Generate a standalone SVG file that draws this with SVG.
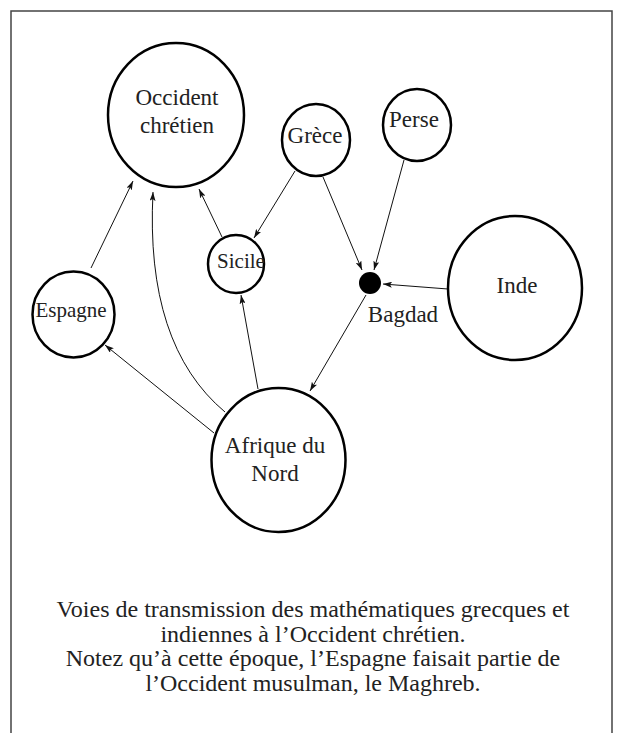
<svg xmlns="http://www.w3.org/2000/svg" width="619" height="733" viewBox="0 0 619 733">
<style>
.node{fill:#fff;stroke:#000;stroke-width:2.5}
.lbl{font-family:"Liberation Serif","Times New Roman",serif;font-size:23px;fill:#222;text-anchor:middle}
.sm{font-size:21px}
.edge{fill:none;stroke:#111;stroke-width:1;marker-end:url(#ah)}
.cap{font-family:"Liberation Serif","Times New Roman",serif;font-size:24px;fill:#222;text-anchor:middle}
.frame{fill:none;stroke:#444;stroke-width:1.5}
</style>
<defs>
<marker id="ah" markerWidth="9" markerHeight="6" refX="9" refY="3" orient="auto" markerUnits="userSpaceOnUse">
<path d="M0,0 L9,3 L0,6 L2,3 Z" fill="#111"/>
</marker>
</defs>
<rect width="619" height="733" fill="#fff"/>
<path class="frame" d="M11,733 L11,11 L612,11 L612,733"/>
<g id="connectors">
<line class="edge" x1="91" y1="268" x2="133" y2="181"/>
<path class="edge" d="M225,412 Q145,345 153,192"/>
<line class="edge" x1="214" y1="433" x2="105" y2="345"/>
<line class="edge" x1="258" y1="389" x2="241" y2="295"/>
<line class="edge" x1="222" y1="237" x2="199" y2="189"/>
<line class="edge" x1="295" y1="171" x2="254" y2="238"/>
<line class="edge" x1="323" y1="177" x2="362" y2="270"/>
<line class="edge" x1="404" y1="160" x2="374" y2="270"/>
<line class="edge" x1="448" y1="289" x2="383" y2="284"/>
<line class="edge" x1="366" y1="295" x2="310" y2="391"/>
</g>
<g id="occident">
<ellipse class="node" cx="176" cy="115" rx="68" ry="72"/>
<text class="lbl" x="177" y="105">Occident</text>
<text class="lbl" x="177" y="133">chrétien</text>
</g>
<g id="grece">
<ellipse class="node" cx="316" cy="140" rx="34" ry="36"/>
<text class="lbl" x="315" y="143">Grèce</text>
</g>
<g id="perse">
<ellipse class="node" cx="417" cy="125" rx="34" ry="36"/>
<text class="lbl" x="414" y="127">Perse</text>
</g>
<g id="sicile">
<ellipse class="node" cx="236" cy="264" rx="28" ry="29"/>
<text class="lbl sm" x="241" y="268">Sicile</text>
</g>
<g id="bagdad">
<circle cx="370" cy="283" r="11" fill="#000"/>
<text class="lbl" x="403" y="322">Bagdad</text>
</g>
<g id="inde">
<ellipse class="node" cx="515" cy="288" rx="67" ry="72"/>
<text class="lbl" x="517" y="293">Inde</text>
</g>
<g id="espagne">
<ellipse class="node" cx="73.5" cy="314.5" rx="41" ry="43"/>
<text class="lbl sm" x="71" y="317">Espagne</text>
</g>
<g id="afrique">
<ellipse class="node" cx="278.5" cy="460" rx="67" ry="72"/>
<text class="lbl" x="275" y="453">Afrique du</text>
<text class="lbl" x="275" y="481">Nord</text>
</g>
<g id="caption">
<text class="cap" x="313" y="617">Voies de transmission des mathématiques grecques et</text>
<text class="cap" x="313" y="641.5">indiennes à l’Occident chrétien.</text>
<text class="cap" x="313" y="666">Notez qu’à cette époque, l’Espagne faisait partie de</text>
<text class="cap" x="313" y="690.5">l’Occident musulman, le Maghreb.</text>
</g>
</svg>
